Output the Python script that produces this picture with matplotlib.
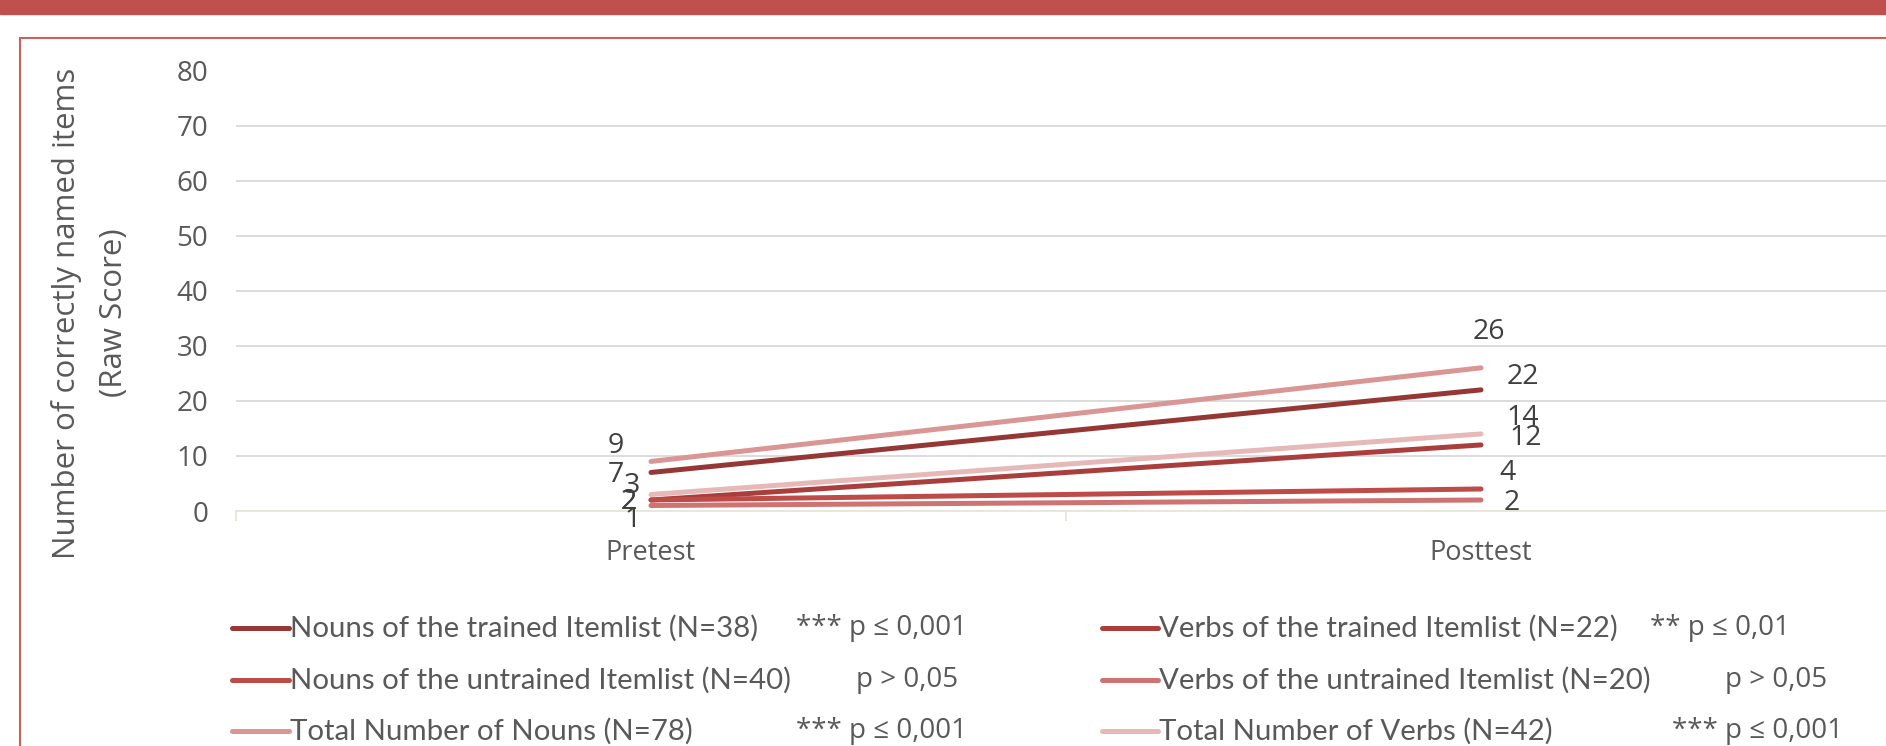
import matplotlib.pyplot as plt
from matplotlib.lines import Line2D
from matplotlib.patches import Rectangle

# Data
categories = ['Pretest', 'Posttest']
series_names = [
    'Nouns of the trained Itemlist (N=38)',
    'Verbs of the trained Itemlist (N=22)',
    'Nouns of the untrained Itemlist (N=40)',
    'Verbs of the untrained Itemlist (N=20)',
    'Total Number of Nouns (N=78)',
    'Total Number of Verbs (N=42)',
]
p_values = ['*** p \u2264 0,001', '** p \u2264 0,01', 'p > 0,05', 'p > 0,05',
            '*** p \u2264 0,001', '*** p \u2264 0,001']
nouns_trained = [7, 22]
verbs_trained = [2, 12]
nouns_untrained = [2, 4]
verbs_untrained = [1, 2]
nouns_total = [9, 26]
verbs_total = [3, 14]
y_ticks = [0, 10, 20, 30, 40, 50, 60, 70, 80]

all_series = [nouns_trained, verbs_trained, nouns_untrained,
              verbs_untrained, nouns_total, verbs_total]
colors = ['#953735', '#AA3E3C', '#BE4B48', '#CD7371', '#D99694', '#E6B9B8']

# label offsets in pixels (pre, post) - manually placed in the original
label_offsets = [
    [(-35, -3), (42, 13)],
    [(-22, -2), (45, 7)],
    [(-22, -2), (26, 16)],
    [(-18, -15), (31, -3)],
    [(-35, 15), (8, 36)],
    [(-19, 8), (42, 16)],
]

W, H = 1886, 746
fig = plt.figure(figsize=(W / 100, H / 100), dpi=100)
ax = fig.add_axes([236 / W, 1 - 511 / H, 1660 / W, 440.5 / H])

txt = '#595959'
tick_font = 'Open Sans'
x = list(range(len(categories)))

for vals, c, offs in zip(all_series, colors, label_offsets):
    ax.plot(x, vals, color=c, lw=3.6, solid_capstyle='round', zorder=3)
    for xi, v, (dx, dy) in zip(x, vals, offs):
        ax.annotate(str(v), (xi, v), xytext=(dx * 0.72, dy * 0.72),
                    textcoords='offset points', ha='center', va='center',
                    fontsize=20.5, family=tick_font, color='#404040')

ax.set_xlim(-0.5, 1.5)
ax.set_ylim(0, 80)
ax.set_yticks(y_ticks)
ax.set_yticklabels([str(t) for t in y_ticks], family=tick_font, fontsize=20, color=txt)
ax.set_xticks(x)
ax.set_xticklabels(categories, family=tick_font, fontsize=19.5, color=txt)
ax.set_xticks([-0.5, 0.5, 1.5], minor=True)
ax.tick_params(axis='y', length=0, pad=20)
ax.tick_params(axis='x', which='major', length=0, pad=20)
ax.tick_params(axis='x', which='minor', length=7, width=1.3, color='#E8E6DA')
ax.grid(axis='y', color='#D9D9D9', lw=1.3)
ax.set_axisbelow(True)
for s in ['top', 'right', 'left']:
    ax.spines[s].set_visible(False)
ax.spines['bottom'].set_color('#E8E6DA')
ax.spines['bottom'].set_linewidth(1.3)
ax.spines['bottom'].set_zorder(2.5)

fig.text(90 / W, 1 - 313 / H, 'Number of correctly named items\n(Raw Score)',
         rotation=90, ha='center', va='center', multialignment='center',
         family=tick_font, fontsize=22.5, color=txt, linespacing=1.75)

# legend (drawn by hand to match the two-column layout with p-values)
col_line_x = [(232, 289), (1102, 1158)]
row_y = [628, 680, 731]
p_x = [[796, 1650], [856, 1725], [796, 1672]]
for i, (name, pv, c) in enumerate(zip(series_names, p_values, colors)):
    row, col = i // 2, i % 2
    y = 1 - row_y[row] / H
    x0, x1 = col_line_x[col]
    fig.add_artist(Line2D([x0 / W, x1 / W], [y, y], color=c, lw=3.6,
                          solid_capstyle='round', transform=fig.transFigure))
    fig.text((x1 + 1) / W, y, name, ha='left', va='center',
             family='Lato', fontsize=21.2, color=txt)
    fig.text(p_x[row][col] / W, y, pv, ha='left', va='center',
             family=tick_font, fontsize=20, color=txt)

# decorative band and frame
fig.add_artist(Rectangle((0, 1 - 14 / H), 1, 14 / H, color='#C0504D',
                         transform=fig.transFigure, zorder=0))
fig.add_artist(Rectangle((19.5 / W, -0.2), 1.2, 1.2 - 37.5 / H, fill=False,
                         edgecolor='#C9615E', lw=1.5, transform=fig.transFigure,
                         clip_on=False))

fig.savefig('out.png', dpi=100)
